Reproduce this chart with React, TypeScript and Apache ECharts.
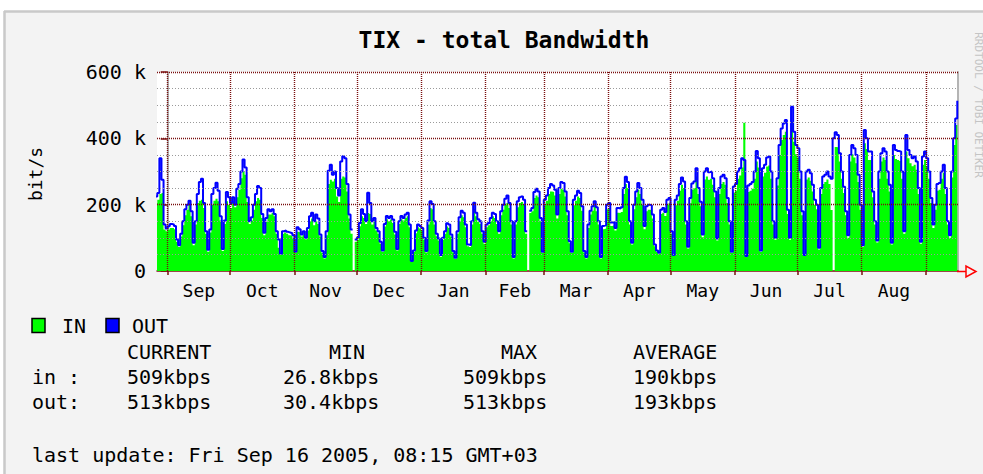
import React, { useEffect, useRef } from "react";
import * as echarts from "echarts";

// ---------- text ----------
const TITLE = "TIX - total Bandwidth";
const Y_TITLE = "bit/s";
const WATERMARK = "RRDTOOL / TOBI OETIKER";
const LEGEND_IN = "IN";
const LEGEND_OUT = "OUT";
const STAT_HEADERS = ["CURRENT", "MIN", "MAX", "AVERAGE"];
const STATS_IN = ["509kbps", "26.8kbps", "509kbps", "190kbps"];
const STATS_OUT = ["513kbps", "30.4kbps", "513kbps", "193kbps"];
const LAST_UPDATE = "last update: Fri Sep 16 2005, 08:15 GMT+03";

// ---------- axes ----------
const MONTH_NAMES = ["Sep", "Oct", "Nov", "Dec", "Jan", "Feb", "Mar", "Apr", "May", "Jun", "Jul", "Aug"];
const MONTH_START_DATES = [
  "2004-09-01", "2004-10-01", "2004-11-01", "2004-12-01", "2005-01-01", "2005-02-01", "2005-03-01",
  "2005-04-01", "2005-05-01", "2005-06-01", "2005-07-01", "2005-08-01", "2005-09-01",
];
const EPOCH = "2004-09-01T00:00:00Z";
const WINDOW_START = "2004-08-26T20:24:00Z";
const WINDOW_END = "2005-09-16T08:15:00Z";
const FIRST_SAMPLE_DATE = "2004-08-26";
const Y_MAJOR_TICKS = [0, 200, 400, 600];
const Y_MINOR_TICKS = [50, 100, 150, 250, 300, 350, 450, 500, 550];

// ---------- daily averages, kbit/s (from 2004-08-26) ----------
const OUT_KBPS: (number | null)[] = [
  225, 235, 340, 275,
  140, 128, 135, 142, 140, 136, 95,
  78, 112, 150, 186, 200, 212, 180,
  85, 150, 232, 268, 278, 205, 120,
  64, 125, 232, 250, 266, 242, 165,
  66, 152, 238, 222, 205, 222, 200,
  248, 262, 300, 336, 312, 222, 150,
  162, 200, 232, 256, 250, 172, 115,
  160, 186, 180, 186, 172, 120, 95,
  52, 120, 122, 118, 116, 114, 108,
  58, 132, 126, 110, 120, 100, 130,
  165, 176, 150, 170, 158, 110, 60,
  42, 120, 302, 320, 290, 300, 250,
  228, 330, 346, 340, 262, 170, 125,
  null, 95, 100, 145, 186, 172, 150,
  236, 205, 150, 160, 130, 120, 88,
  62, 142, 166, 160, 166, 155, 118,
  66, 150, 166, 160, 170, 176, 140,
  30, 62, 122, 140, 136, 130, 100,
  60, 152, 210, 202, 150, 112, 98,
  48, 100, 120, 144, 140, 110, 60,
  40, 120, 162, 182, 176, 140, 80,
  78, 150, 206, 176, 156, 150, 120,
  88, 140, 145, 160, 176, 172, 150,
  120, 180, 200, 218, 228, 205, 150,
  42, 150, 210, 222, 225, 215, 120,
  null, 182, 190, 238, 248, 240, 160,
  58, 215, 228, 250, 262, 258, 245,
  170, 250, 268, 265, 240, 180, 90,
  58, 215, 228, 242, 235, 195, 60,
  42, 140, 182, 195, 210, 192, 150,
  42, 136, 138, 200, 205, 146, 148,
  130, 190, 188, 192, 250, 284, 268,
  150, 85, 200, 240, 265, 250, 215,
  136, 195, 200, 198, 170, 80, 62,
  55, 185, 190, 178, 215, 220, 120,
  48, 215, 228, 262, 282, 270, 150,
  73, 220, 264, 270, 310, 250, 209,
  110, 300, 310, 298, 300, 280, 240,
  98, 250, 285, 290, 280, 220, 150,
  58, 255, 262, 300, 310, 340, 335,
  45, 258, 262, 268, 300, 362, 340,
  62, 310, 320, 342, 345, 300, 150,
  100, 280, 380, 430, 445, 455, 185,
  100, 495, 420, 380, 370, 300, 180,
  48, 300, 305, 295, 260, 215, 200,
  70, 250, 285, 290, 300, 285, 278,
  400, 418, 410, 355, 300, 254, 180,
  108, 350, 380, 370, 350, 290, 200,
  78, 425, 400, 360, 360, 240, 150,
  92, 300, 355, 370, 360, 300, 260,
  85, 380, 365, 362, 360, 300, 120,
  410, 365, 350, 340, 345, 330, 250,
  88, 345, 360, 340, 300, 220, 140,
  200, 262, 265, 300, 320, 250, 150,
  108, 300, 400, 460, 513,
];

const IN_KBPS: number[] = [
  205, 215, 232, 235,
  125, 120, 125, 130, 130, 126, 88,
  72, 104, 138, 168, 185, 200, 165,
  78, 140, 205, 212, 215, 190, 112,
  58, 116, 200, 212, 218, 210, 152,
  60, 142, 210, 200, 190, 210, 192,
  222, 245, 280, 300, 290, 208, 142,
  152, 185, 210, 220, 215, 160, 108,
  148, 170, 170, 175, 165, 112, 70,
  48, 112, 116, 112, 108, 106, 100,
  54, 118, 116, 104, 110, 96, 122,
  148, 158, 138, 150, 142, 104, 55,
  38, 108, 262, 275, 270, 278, 225,
  208, 278, 285, 282, 240, 158, 112,
  0, 88, 94, 135, 165, 160, 142,
  175, 172, 140, 148, 122, 112, 82,
  58, 134, 156, 150, 155, 145, 110,
  62, 142, 156, 152, 160, 165, 132,
  27, 57, 114, 132, 128, 122, 94,
  56, 140, 190, 186, 140, 105, 92,
  43, 94, 112, 134, 130, 104, 56,
  36, 112, 150, 168, 162, 132, 75,
  72, 140, 188, 165, 148, 142, 112,
  82, 132, 138, 150, 165, 160, 142,
  112, 168, 185, 200, 205, 190, 140,
  38, 140, 192, 205, 208, 200, 112,
  0, 175, 180, 220, 228, 222, 150,
  54, 198, 212, 232, 240, 238, 228,
  158, 232, 248, 245, 225, 168, 84,
  54, 198, 212, 225, 220, 182, 56,
  38, 130, 170, 182, 196, 180, 140,
  38, 126, 128, 186, 190, 136, 138,
  122, 176, 175, 178, 232, 262, 250,
  140, 80, 186, 222, 245, 232, 200,
  126, 180, 185, 184, 158, 75, 58,
  51, 172, 176, 166, 200, 204, 112,
  45, 198, 212, 242, 260, 250, 140,
  68, 204, 245, 250, 285, 232, 195,
  102, 276, 285, 275, 278, 260, 222,
  92, 232, 262, 268, 260, 205, 140,
  54, 236, 242, 278, 288, 312, 447,
  42, 238, 242, 248, 278, 330, 312,
  58, 285, 296, 315, 318, 278, 140,
  94, 258, 350, 395, 410, 420, 172,
  94, 450, 390, 352, 342, 278, 168,
  45, 276, 282, 272, 240, 200, 186,
  65, 232, 262, 268, 276, 262, 184,
  0, 374, 372, 330, 278, 235, 168,
  100, 330, 352, 342, 325, 268, 185,
  72, 385, 368, 335, 335, 222, 140,
  86, 278, 330, 342, 335, 278, 240,
  80, 350, 338, 335, 332, 278, 112,
  360, 340, 325, 316, 320, 305, 232,
  82, 320, 335, 315, 278, 205, 130,
  185, 242, 245, 278, 296, 232, 140,
  100, 282, 380, 440, 509,
];

// ---------- colours ----------
const BG = "#f3f3f3";
const FRAME = "#c9c9c9";
const GREEN = "#00ff00";
const BLUE = "#0000ff";
const MAJOR = "#7a0f0f";
const MINOR = "#9a9a9a";
const FONT = '"DejaVu Sans Mono", monospace';

const DAY = 86400000;
const dayOf = (s: string) => (Date.parse(s) - Date.parse(EPOCH)) / DAY;

export default function App() {
  const ref = useRef<HTMLDivElement>(null);

  useEffect(() => {
    if (!ref.current) return;
    const chart = echarts.init(ref.current, undefined, { renderer: "svg" });

    const monthStarts = MONTH_START_DATES.map((s) => dayOf(s + "T00:00:00Z"));
    const monthMids = MONTH_NAMES.map((_, i) => (monthStarts[i] + monthStarts[i + 1]) / 2);
    const first = dayOf(FIRST_SAMPLE_DATE + "T00:00:00Z");
    const outData = OUT_KBPS.map((v, i) => [first + i, v === null ? "-" : v]);
    const inData = IN_KBPS.map((v, i) => [first + i, v]);

    const txt = (text: string, x: number, y: number, extra: any = {}) => ({
      type: "text",
      x,
      y,
      silent: true,
      style: {
        text,
        fill: "#000",
        font: `20px ${FONT}`,
        textAlign: "left",
        align: "left",
        textVerticalAlign: "middle",
        verticalAlign: "middle",
        ...extra,
      },
    });

    const statCols = [127, 283, 463, 633];
    const headCols = [127, 329, 501, 633];

    const graphic: any[] = [
      { type: "rect", silent: true, z: -10, shape: { x: 4, y: 11, width: 979, height: 463 }, style: { fill: BG } },
      { type: "line", silent: true, z: -9, shape: { x1: 4, y1: 11.5, x2: 983, y2: 11.5 }, style: { stroke: FRAME, lineWidth: 2.5 } },
      { type: "line", silent: true, z: -9, shape: { x1: 4.5, y1: 11, x2: 4.5, y2: 474 }, style: { stroke: FRAME, lineWidth: 2.5 } },
      txt(TITLE, 504, 40, { font: `bold 23px ${FONT}`, textAlign: "center", align: "center" }),
      {
        type: "text",
        x: 35,
        y: 174,
        rotation: Math.PI / 2,
        silent: true,
        style: { text: Y_TITLE, fill: "#000", font: `18px ${FONT}`, textAlign: "center", align: "center", textVerticalAlign: "middle", verticalAlign: "middle" },
      },
      {
        type: "text",
        x: 978,
        y: 105,
        rotation: -Math.PI / 2,
        silent: true,
        style: { text: WATERMARK, fill: "#c4c4c4", font: `11px ${FONT}`, textAlign: "center", align: "center", textVerticalAlign: "middle", verticalAlign: "middle" },
      },
      // axis arrow
      { type: "line", silent: true, z: 20, shape: { x1: 957, y1: 271.5, x2: 966, y2: 271.5 }, style: { stroke: "#ff0000", lineWidth: 1.5 } },
      { type: "polygon", silent: true, z: 20, shape: { points: [[966, 266], [966, 277], [976, 271.5]] }, style: { stroke: "#ff0000", fill: "none", lineWidth: 1.5 } },
      // legend
      { type: "rect", silent: true, shape: { x: 32, y: 318.5, width: 13, height: 14 }, style: { fill: GREEN, stroke: "#000", lineWidth: 1.5 } },
      txt(LEGEND_IN, 62, 326),
      { type: "rect", silent: true, shape: { x: 106, y: 318.5, width: 13, height: 14 }, style: { fill: BLUE, stroke: "#000", lineWidth: 1.5 } },
      txt(LEGEND_OUT, 132, 326),
      // stats
      ...STAT_HEADERS.map((h, i) => txt(h, headCols[i], 352)),
      txt("in :", 32, 377),
      ...STATS_IN.map((s, i) => txt(s, statCols[i], 377)),
      txt("out:", 32, 402),
      ...STATS_OUT.map((s, i) => txt(s, statCols[i], 402)),
      txt(LAST_UPDATE, 32, 455),
    ];

    const major = { color: MAJOR, type: [1, 1], width: 1.4 };
    const minor = { color: MINOR, type: [1, 2], width: 1.2 };

    chart.setOption({
      animation: false,
      backgroundColor: "#ffffff",
      textStyle: { fontFamily: FONT },
      grid: { left: 157, top: 72, right: 25, bottom: 203, show: true, backgroundColor: "#ffffff", borderWidth: 0 },
      xAxis: {
        type: "value",
        min: dayOf(WINDOW_START),
        max: dayOf(WINDOW_END),
        axisLine: { show: true, lineStyle: { color: MAJOR, width: 1.5 } },
        axisTick: { show: true, customValues: monthStarts, length: 4, lineStyle: { color: MAJOR, width: 1.5 } },
        axisLabel: {
          customValues: monthMids,
          margin: 10,
          color: "#000",
          fontFamily: FONT,
          fontSize: 18,
          formatter: (v: number) => {
            let best = 0;
            monthMids.forEach((m, i) => {
              if (Math.abs(m - v) < Math.abs(monthMids[best] - v)) best = i;
            });
            return MONTH_NAMES[best];
          },
        },
        splitLine: { show: false },
      },
      yAxis: [
        {
          type: "value",
          min: 0,
          max: 600,
          interval: 200,
          axisLine: { show: true, lineStyle: { color: "#b4b4b4", width: 2 } },
          axisTick: { show: true, length: 7, lineStyle: { color: MAJOR, width: 1.5 } },
          axisLabel: {
            margin: 11,
            color: "#000",
            fontFamily: FONT,
            fontSize: 20,
            formatter: (v: number) => (v === 0 ? "0" : `${v} k`),
          },
          splitLine: { show: false },
        },
        {
          type: "value",
          position: "right",
          min: 0,
          max: 600,
          interval: 200,
          axisLine: { show: true, lineStyle: { color: "#b4b4b4", width: 2 } },
          axisTick: { show: false },
          axisLabel: { show: false },
          splitLine: { show: false },
        },
      ],
      graphic,
      series: [
        {
          name: LEGEND_IN,
          type: "line",
          data: inData,
          step: "end",
          showSymbol: false,
          symbol: "none",
          lineStyle: { width: 0, opacity: 0 },
          areaStyle: { color: GREEN, opacity: 1 },
          z: 2,
          silent: true,
        },
        {
          name: LEGEND_OUT,
          type: "line",
          data: outData,
          step: "end",
          showSymbol: false,
          symbol: "none",
          connectNulls: false,
          lineStyle: { width: 2, color: BLUE },
          z: 3,
          silent: true,
          markLine: {
            silent: true,
            symbol: ["none", "none"],
            label: { show: false },
            emphasis: { disabled: true },
            animation: false,
            data: [
              ...Y_MINOR_TICKS.map((v) => ({ yAxis: v, lineStyle: minor })),
              ...Y_MAJOR_TICKS.filter((v) => v > 0).map((v) => ({ yAxis: v, lineStyle: major })),
              ...monthStarts.map((v) => ({ xAxis: v, lineStyle: major })),
            ],
          },
        },
      ],
    });

    return () => chart.dispose();
  }, []);

  return (
    <div
      ref={ref}
      style={{ position: "absolute", left: 0, top: 0, width: 983, height: 474 }}
    />
  );
}
